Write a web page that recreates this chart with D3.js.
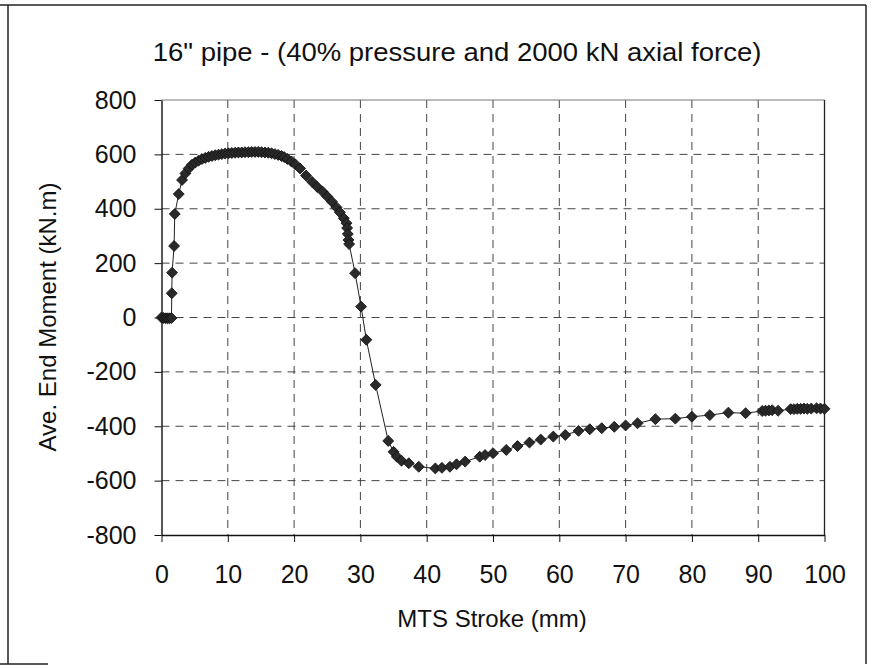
<!DOCTYPE html>
<html>
<head>
<meta charset="utf-8">
<script src="https://cdn.jsdelivr.net/npm/d3@7"></script>
<style>
  body { margin: 0; background: #fff; }
  text { font-family: "Liberation Sans", Arial, sans-serif; fill: #111; }
</style>
</head>
<body>
<svg id="canvas"></svg>
<script>
// Stroke (mm) readings.
var strokeMm = [
  0, 0.3, 0.6, 0.9, 1.2, 1.5, 1.55, 1.6, 1.9, 2.0, 2.6, 3.1, 3.6, 4.1, 4.6, 5.1,
  5.6, 6.1, 6.6, 7.1, 7.6, 8.1, 8.6, 9.1, 9.6, 10.1, 10.6, 11.1, 11.6, 12.1,
  12.6, 13.1, 13.6, 14.1, 14.6, 15.1, 15.6, 16.1, 16.6, 17.1, 17.6, 18.1, 18.5,
  19.0, 19.6, 20.2, 20.9, 21.8, 22.7, 23.5, 24.3, 25.0, 25.7, 26.4, 26.9, 27.5,
  27.9, 28.0, 28.1, 28.2, 28.3, 29.2, 30.1, 30.9, 32.3, 34.2, 35.0, 35.5, 36.2,
  37.3, 38.8, 41.3, 42.3, 43.5, 44.5, 45.8, 48.0, 48.8, 50.0, 52.0, 53.7, 55.5,
  57.2, 59.1, 60.9, 62.9, 64.6, 66.4, 68.3, 70.0, 71.8, 74.5, 77.5, 80.0, 82.7,
  85.5, 88.1, 90.6, 91.1, 91.6, 92.1, 93.0, 94.9, 95.4, 95.9, 96.4, 96.9, 97.4,
  98.0, 98.8, 99.4, 100.0
];

// Average end moment (kN.m) readings.
var momentKNm = [
  0, -2, -3, -3, -3, -2, 89, 165, 263, 381, 454, 506, 530, 548, 562, 570,
  577, 583, 587, 591, 594, 597, 599, 601, 603, 604, 605, 606, 607, 607,
  608, 608, 609, 609, 609, 608, 607, 606, 604, 601, 598, 594, 590,
  583, 574, 563, 548, 522, 499, 480, 463, 445, 426, 405, 387, 365,
  347, 329, 307, 285, 270, 163, 40, -82, -248, -454, -494, -512, -527,
  -536, -549, -555, -553, -549, -540, -530, -512, -506, -499, -487, -473, -460,
  -449, -438, -432, -417, -411, -407, -402, -397, -389, -374, -372, -365, -359,
  -350, -352, -344, -343, -342, -341, -343, -337, -337, -336, -336, -335, -336,
  -335, -334, -335, -336
];

// Axis ticks and labels.
var xTicks = [0, 10, 20, 30, 40, 50, 60, 70, 80, 90, 100];
var yTicks = [-800, -600, -400, -200, 0, 200, 400, 600, 800];
var titleText = '16" pipe - (40% pressure and 2000 kN axial force)';
var xTitle = 'MTS Stroke (mm)';
var yTitle = 'Ave. End Moment (kN.m)';

// Canvas properties.
var canvas = { width: 872, height: 669 };
var plot = { left: 161.5, right: 824.5, top: 100, bottom: 535 };

var svg = d3.select('#canvas')
  .attr('width', canvas.width)
  .attr('height', canvas.height);

var points = strokeMm.map(function(x, i) { return { x: x, y: momentKNm[i] }; });

// Scales.
var xScale = d3.scaleLinear().domain([0, 100]).range([plot.left, plot.right]);
var yScale = d3.scaleLinear().domain([-800, 800]).range([plot.bottom, plot.top]);

// Outer frame (left, top, right and a scrap of the bottom edge).
var frame = svg.append('g')
  .attr('stroke', '#222')
  .attr('stroke-width', 1.5);
frame.append('line').attr('x1', 8).attr('x2', 8).attr('y1', 5).attr('y2', 664);
frame.append('line').attr('x1', 0).attr('x2', 866).attr('y1', 5).attr('y2', 5);
frame.append('line').attr('x1', 866).attr('x2', 866).attr('y1', 5).attr('y2', 664);
frame.append('line').attr('x1', 0).attr('x2', 48).attr('y1', 664).attr('y2', 664);

// Grid lines.
svg.append('g')
  .selectAll('line')
  .data(xTicks.slice(1, -1))
  .enter().append('line')
  .attr('x1', function(d) { return xScale(d); })
  .attr('x2', function(d) { return xScale(d); })
  .attr('y1', plot.top).attr('y2', plot.bottom)
  .attr('stroke', '#444')
  .attr('stroke-width', 1)
  .attr('stroke-dasharray', '8,6');

svg.append('g')
  .selectAll('line')
  .data(yTicks.slice(1, -1))
  .enter().append('line')
  .attr('x1', plot.left).attr('x2', plot.right)
  .attr('y1', function(d) { return yScale(d); })
  .attr('y2', function(d) { return yScale(d); })
  .attr('stroke', '#444')
  .attr('stroke-width', 1)
  .attr('stroke-dasharray', '8,6');

// Top edge of the plot area.
svg.append('line')
  .attr('x1', plot.left).attr('x2', plot.right)
  .attr('y1', plot.top).attr('y2', plot.top)
  .attr('stroke', '#777').attr('stroke-width', 1);

// Right edge of the plot area.
svg.append('line')
  .attr('x1', plot.right).attr('x2', plot.right)
  .attr('y1', plot.top).attr('y2', plot.bottom)
  .attr('stroke', '#222').attr('stroke-width', 1.3);

// Plain hyphen for negative labels.
var plainFormat = function(d) { return String(d); };

// Horizontal axis.
var xAxis = svg.append('g')
  .attr('transform', 'translate(0,' + plot.bottom + ')')
  .call(d3.axisBottom(xScale).tickValues(xTicks).tickFormat(plainFormat)
    .tickSize(7).tickPadding(23).tickSizeOuter(0));
xAxis.selectAll('text').style('font-size', '25px');
xAxis.select('.domain').attr('stroke', '#111').attr('stroke-width', 1.4);
xAxis.selectAll('.tick line').attr('stroke', '#111');

// Vertical axis.
var yAxis = svg.append('g')
  .attr('transform', 'translate(' + plot.left + ',0)')
  .call(d3.axisLeft(yScale).tickValues(yTicks).tickFormat(plainFormat)
    .tickSize(7).tickPadding(18).tickSizeOuter(0));
yAxis.selectAll('text').style('font-size', '25px');
yAxis.select('.domain').attr('stroke', '#111').attr('stroke-width', 1.4);
yAxis.selectAll('.tick line').attr('stroke', '#111');

// Data line.
var line = d3.line()
  .x(function(d) { return xScale(d.x); })
  .y(function(d) { return yScale(d.y); });

svg.append('path')
  .datum(points)
  .attr('d', line)
  .attr('fill', 'none')
  .attr('stroke', '#222')
  .attr('stroke-width', 1);

// Diamond markers.
var diamond = d3.symbol().type(d3.symbolSquare).size(60);
svg.append('g')
  .selectAll('path')
  .data(points)
  .enter().append('path')
  .attr('d', diamond)
  .attr('transform', function(d) {
    return 'translate(' + xScale(d.x) + ',' + yScale(d.y) + ') rotate(45)';
  })
  .attr('fill', '#2a2a2a')
  .attr('stroke', '#111')
  .attr('stroke-width', 0.8);

// Chart title.
svg.append('text')
  .attr('text-anchor', 'middle')
  .attr('transform', 'translate(457,61) scale(1.1,1)')
  .style('font-size', '25px')
  .text(titleText);

// Axis titles.
svg.append('text')
  .attr('text-anchor', 'middle')
  .attr('x', 492).attr('y', 627)
  .style('font-size', '24px')
  .text(xTitle);

svg.append('text')
  .attr('text-anchor', 'middle')
  .attr('transform', 'translate(56,317) rotate(-90)')
  .style('font-size', '24px')
  .text(yTitle);
</script>
</body>
</html>
